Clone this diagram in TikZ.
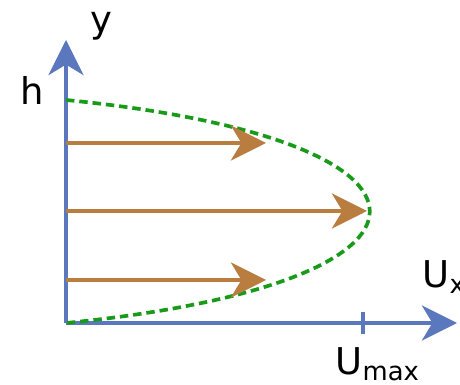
\documentclass[tikz,border=0pt]{standalone}
\usepackage{fontspec}
\setmainfont{DejaVu Sans}
\usetikzlibrary{arrows.meta, positioning, calc}
\definecolor{axis}{HTML}{5B78BE}
\definecolor{flowc}{HTML}{B97D40}
\definecolor{prof}{HTML}{1A9A1A}
\tikzset{
  font=\fontsize{10.5}{12}\selectfont,
  %
  axisline/.style={draw=axis, line width=1.1pt,
                   -{Stealth[length=10pt, width=10pt, inset=3pt]}},
  velo/.style={draw=flowc, line width=1.1pt,
               -{Stealth[length=10pt, width=10pt, inset=3pt]}},
  profile/.style={draw=prof, line width=1.05pt, dash pattern=on 2.4pt off 1.4pt},
  ticky/.style={draw=axis, line width=1pt},
  lbl/.style={inner sep=0pt, anchor=base west},
}
\begin{document}
\begin{tikzpicture}[x=1cm, y=1cm]
  \useasboundingbox (0,0) rectangle (4.6,3.85);

  % =======================================================================
  % axes
  % =======================================================================
  \coordinate (O) at (0.66,0.62);
  \coordinate (ytip) at (0.66,3.45);
  \coordinate (xtip) at (4.57,0.62);
  \draw[axisline] (O) -- (ytip);
  \draw[axisline] (O) -- (xtip);

  \coordinate (tk0) at (3.63,0.51);
  \coordinate (tk1) at (3.63,0.73);
  \draw[ticky] (tk0) -- (tk1);

  \node[lbl] (ylab) at (0.90,3.52) {y};
  \node[lbl] (hlab) at (0.20,2.80) {h};
  \node[lbl] (uxlab) at (4.22,0.97) {U\textsubscript{x}};
  \node[lbl] (umlab) at (3.35,0.10) {U\textsubscript{max}};

  % =======================================================================
  % velocity profile
  % =======================================================================
  \coordinate (top) at (0.66,2.85);
  \draw[profile] (top) .. controls (4.71,2.45) and (4.71,1.02) .. (O);

  \foreach \i/\y/\t in {0/2.42/2.66, 1/1.74/3.67, 2/1.05/2.66} {
    \coordinate (s\i) at (0.66,\y);
    \coordinate (e\i) at (\t,\y);
    \draw[velo] (s\i) -- (e\i);
  }

\end{tikzpicture}
\end{document}
